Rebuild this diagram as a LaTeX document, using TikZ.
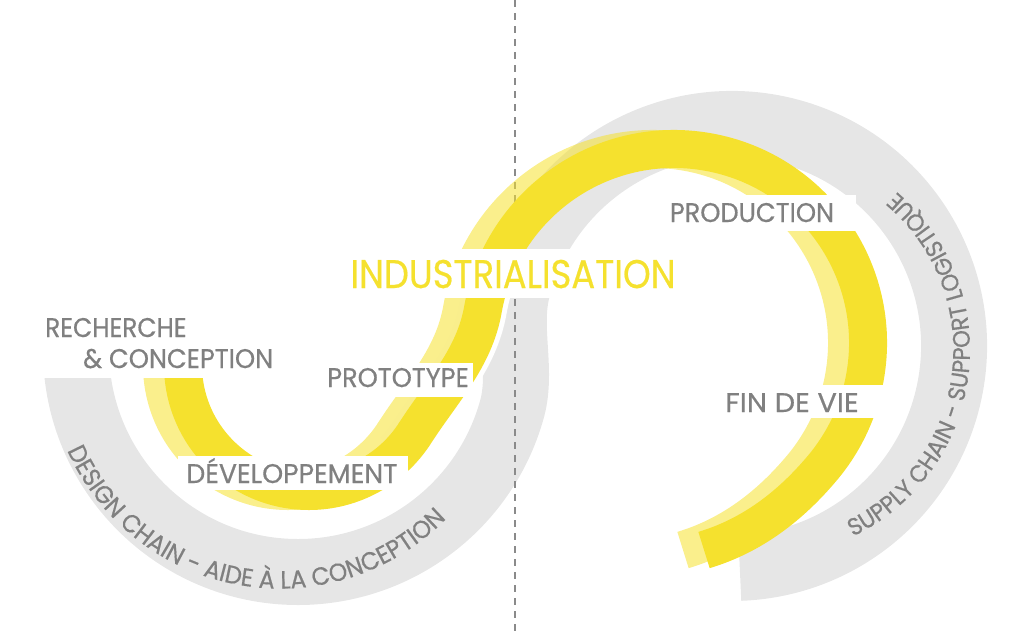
\documentclass[tikz,border=0pt]{standalone}
\usepackage{fontspec}
\usepackage{graphicx}
\newfontfamily\labfont{Poppins}[FakeStretch=0.95,FakeBold=0.5]
\usetikzlibrary{decorations.text}
\definecolor{bandgray}{HTML}{E6E6E6}
\definecolor{txtgray}{HTML}{808080}
\definecolor{yel}{HTML}{F5E12E}
\definecolor{dashgray}{HTML}{8A8A8A}
\newcommand\graypath{(76,350) arc[start angle=180, end angle=15, radius=222] .. controls (522.4,368.4) and (507.2,327) .. (517.6,288.5) arc[start angle=195, end angle=448, radius=222]}
\newcommand\yelpath{(183,365) arc[start angle=180, end angle=32.6, radius=126] .. controls (442.2,390.8) and (474.3,358.5) .. (482.95,309.3) arc[start angle=190, end angle=400, radius=194] .. controls (790.5,506) and (752,535.6) .. (704,550)}
\tikzset{
  lab/.style={font=\labfont\fontsize{27}{30}\selectfont, text=txtgray, inner sep=0pt},
  whitebox/.style={fill=white},
}
\begin{document}
\begin{tikzpicture}[x=1pt,y=-1pt]
\useasboundingbox (0,0) rectangle (1030,633);
% gray S band
\draw[bandgray, line width=66] \graypath;
% dashed divider
\coordinate (dtop) at (515,0);
\coordinate (dbot) at (515,633);
\draw[dashgray, line width=2, dash pattern=on 7pt off 6pt] (dtop) -- (dbot);
% white halo of yellow band in the crossing
\draw[white, line width=48] (309,365) ++(45:126) arc[start angle=45, end angle=32.6, radius=126] .. controls (442.2,390.8) and (474.3,358.5) .. (482.95,309.3) arc[start angle=190, end angle=200, radius=194];
% yellow bands
\draw[yel, opacity=.55, line width=38, shift={(-21,0)}] \yelpath;
\draw[yel, line width=38] \yelpath;
% label boxes
\fill[whitebox] (30,300) rectangle (290,378);
\fill[whitebox] (323,363) rectangle (473,397);
\fill[whitebox] (178,456) rectangle (408,490);
\fill[whitebox] (345,249) rectangle (682,298);
\fill[whitebox] (665,195) rectangle (856,231);
\fill[whitebox] (718,385) rectangle (890,418);
% labels
\node[lab, anchor=base west] (rech) at (45,337) {\scalebox{0.97}[1]{RECHERCHE}};
\node[lab, anchor=base west] (conc) at (83,368) {\& CONCEPTION};
\node[lab, anchor=base] (proto) at (398,387) {PROTOTYPE};
\node[lab, anchor=base] (dev) at (292,483) {\scalebox{1.04}[1]{DÉVELOPPEMENT}};
\node[lab, anchor=base, text=yel, font=\labfont\fontsize{40}{44}\selectfont] (indus) at (513,288) {\scalebox{0.93}[1]{INDUSTRIALISATION}};
\node[lab, anchor=base] (prod) at (752,222) {PRODUCTION};
\node[lab, anchor=base] (fin) at (792,412) {\scalebox{1.12}[1]{FIN DE VIE}};
% curved texts
\path[decorate, decoration={text along path, text align=center,
  text={|\labfont\fontsize{25}{25}\selectfont\color{txtgray}|DESIGN CHAIN - AIDE À LA CONCEPTION}}]
  (280,355.5) ++(190:233) arc[start angle=190, end angle=10.4, radius=233];
\path[decorate, decoration={text along path, text align=center,
  text={|\labfont\fontsize{24}{24}\selectfont\color{txtgray}|SUPPLY CHAIN - SUPPORT LOGISTIQUE}}]
  (763,350) ++(97:207) arc[start angle=97, end angle=-82.6, radius=207];
\end{tikzpicture}
\end{document}
